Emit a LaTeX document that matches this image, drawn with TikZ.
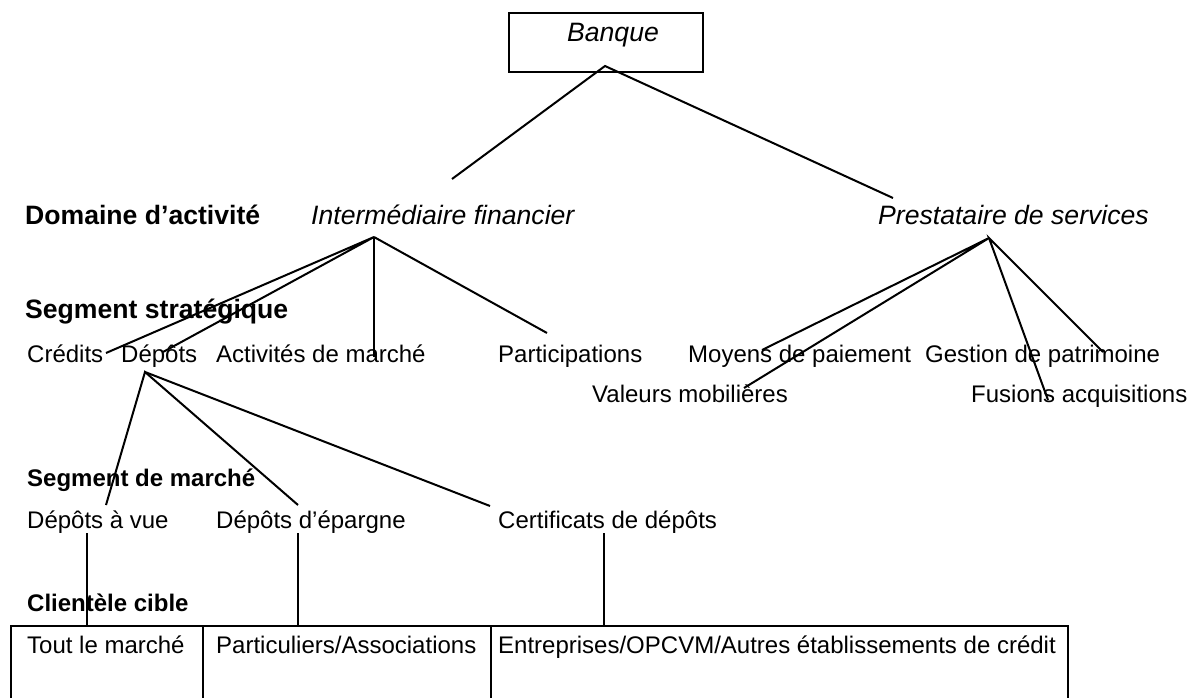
\documentclass[tikz,border=0pt]{standalone}
\usepackage{fontspec}
\setmainfont{Liberation Sans}
\begin{document}
\begin{tikzpicture}[x=1pt,y=-1pt,
  ln/.style={line width=2pt, black},
  big/.style={inner sep=0pt, anchor=base west},
  bigit/.style={big, font=\fontsize{26.6}{30}\selectfont\itshape},
  bigbf/.style={big, font=\fontsize{26.6}{30}\selectfont\bfseries},
  txt/.style={inner sep=0pt, anchor=base west, font=\fontsize{24}{28}\selectfont},
  hdr/.style={inner sep=0pt, anchor=base west, font=\fontsize{24}{28}\selectfont\bfseries},
  cbox/.style={draw, line width=2pt, anchor=north west, minimum height=80pt, inner sep=0pt, rectangle}]
\useasboundingbox (0,0) rectangle (1191,698);

% top box
\node[draw, line width=2pt, rectangle, minimum width=194pt, minimum height=59pt, inner sep=0pt, anchor=north west] (banqueBox) at (508,12) {};
\node[bigit, anchor=base] (banque) at (613,42) {Banque};

% level labels and nodes
\node[bigbf] (dom) at (25,224) {Domaine d’activité};
\node[bigit] (IF) at (311,224) {Intermédiaire financier};
\node[bigit] (PS) at (878,224) {Prestataire de services};
\node[bigbf] (segS) at (25,318) {Segment stratégique};

\node[txt] (cred) at (27,362) {Crédits};
\node[txt] (dep) at (121,362) {Dépôts};
\node[txt] (act) at (216,362) {Activités de marché};
\node[txt] (part) at (498,362) {Participations};
\node[txt] (moy) at (688,362) {Moyens de paiement};
\node[txt] (gest) at (925,362) {Gestion de patrimoine};
\node[txt] (val) at (592,402) {Valeurs mobilières};
\node[txt] (fus) at (971,402) {Fusions acquisitions};

\node[hdr] (segM) at (27,486) {Segment de marché};
\node[txt] (dav) at (27,528) {Dépôts à vue};
\node[txt] (dep2) at (216,528) {Dépôts d’épargne};
\node[txt] (cert) at (498,528) {Certificats de dépôts};

\node[hdr] (cli) at (27,611) {Clientèle cible};

% bottom boxes
\node[cbox, minimum width=192pt] (b1) at (10,625) {};
\node[cbox, minimum width=288pt] (b2) at (202,625) {};
\node[cbox, minimum width=577pt] (b3) at (490,625) {};
\node[txt] (t1) at (27,653) {Tout le marché};
\node[txt] (t2) at (216,653) {Particuliers/Associations};
\node[txt] (t3) at (498,653) {Entreprises/OPCVM/Autres établissements de crédit};

% connector points
\coordinate (bA) at (605,66);
\coordinate (bL) at (452,179);
\coordinate (bR) at (893,198);
\coordinate (ifA) at (374,237);
\coordinate (ifC) at (106,353);
\coordinate (ifD) at (163,352);
\coordinate (ifV) at (374,357);
\coordinate (ifP) at (547,333);
\coordinate (psA) at (989,238);
\coordinate (psM) at (762,350);
\coordinate (psV) at (744,388);
\coordinate (psF) at (1048,400);
\coordinate (psG) at (1103,352);
\coordinate (dA) at (145,372);
\coordinate (dV) at (106,505);
\coordinate (dE) at (298,505);
\coordinate (dC) at (490,506);
\coordinate (v1) at (87,533);
\coordinate (v2) at (298,533);
\coordinate (v3) at (604,533);

% connectors
\draw[ln] (bL) -- (bA) -- (bR);
\draw[ln] (ifC) -- (ifA) -- (ifD);
\draw[ln] (ifA) -- (ifV);
\draw[ln] (ifA) -- (ifP);
\draw[ln] (psM) -- (psA) -- (psV);
\draw[ln] (psF) -- (psA) -- (psG);
\draw[ln] (dV) -- (dA) -- (dE);
\draw[ln] (dA) -- (dC);
\draw[ln] (v1) -- (v1 |- b1.north);
\draw[ln] (v2) -- (v2 |- b2.north);
\draw[ln] (v3) -- (v3 |- b3.north);
\end{tikzpicture}
\end{document}
